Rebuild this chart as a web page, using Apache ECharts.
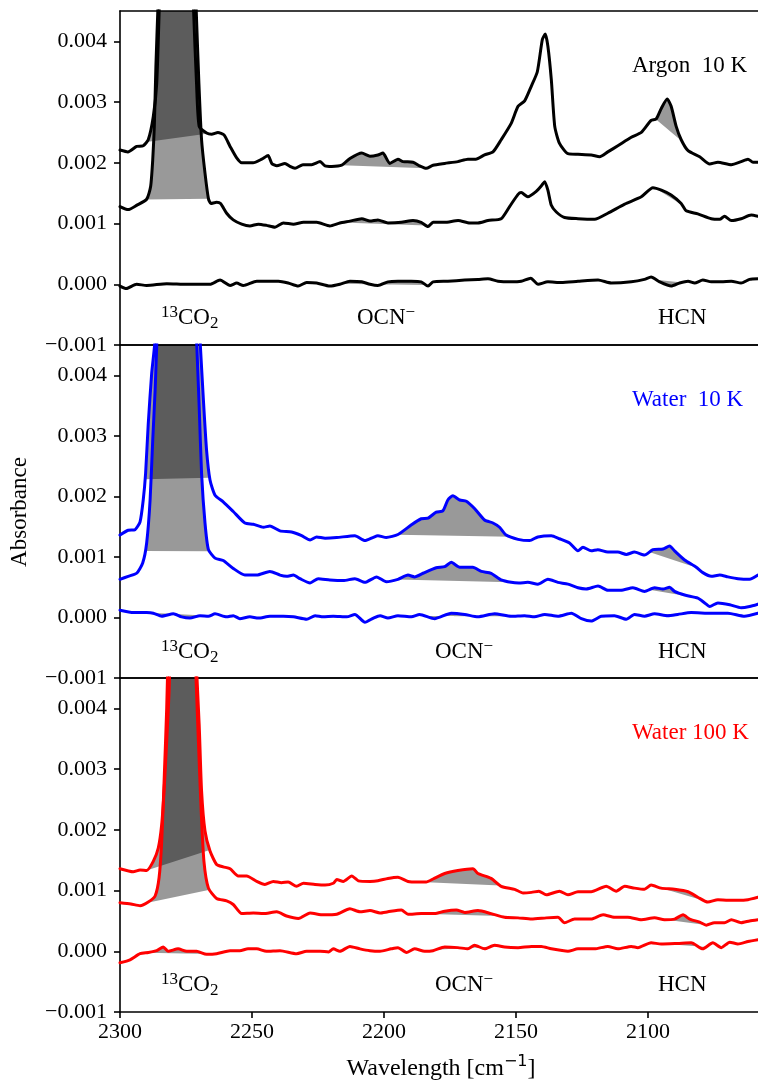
<!DOCTYPE html>
<html>
<head>
<meta charset="utf-8">
<script src="https://cdn.jsdelivr.net/npm/echarts@6/dist/echarts.min.js"></script>
<style>
  html, body { margin: 0; padding: 0; background: #fff; }
  #chart { width: 758px; height: 1082px; }
</style>
</head>
<body>
<div id="chart"></div>
<script>
// absorbance values in units of 1e-3, [wavenumber, value]
const argonTop = [[2300,2.21],[2297,2.18],[2293.7,2.27],[2291.2,2.28],[2289.3,2.38],[2287.4,2.76],[2286.1,3.3],[2285.1,4.6],[2283,8],[2278.5,10],[2274.5,8],[2272.2,4.6],[2271,3.3],[2270,2.6],[2267.2,2.49],[2265.3,2.47],[2262.9,2.5],[2260.6,2.46],[2258.3,2.27],[2255.8,2.08],[2253.9,2.0],[2249.6,2.0],[2246.3,2.06],[2243.9,2.12],[2242.5,1.99],[2240.6,1.95],[2237.5,1.99],[2235.6,1.94],[2233.7,1.91],[2230.7,1.97],[2227.4,1.97],[2224.2,2.02],[2222.3,1.95],[2219.8,1.94],[2216,1.96],[2212.9,2.07],[2208.4,2.16],[2205.3,2.11],[2202.3,2.13],[2200.4,2.16],[2197.8,1.99],[2194.7,2.06],[2192.8,2.02],[2189,2.01],[2186.5,1.95],[2184,1.91],[2181.4,1.96],[2177,1.99],[2172,2.02],[2168.2,2.06],[2165.2,2.06],[2161.9,2.13],[2158.7,2.18],[2155.6,2.38],[2151.8,2.65],[2149.2,2.93],[2146.7,3.02],[2144.2,3.26],[2141.9,3.5],[2140,4.03],[2138.9,4.12],[2137.9,3.92],[2136.6,3.37],[2135.3,2.6],[2133.5,2.32],[2130.3,2.15],[2126.5,2.14],[2121.5,2.13],[2118.3,2.1],[2115.2,2.18],[2111.4,2.28],[2106.3,2.42],[2102.5,2.5],[2098.8,2.7],[2096.9,2.72],[2094.9,2.9],[2092.7,3.05],[2091.2,2.93],[2089.3,2.6],[2087.4,2.38],[2084.8,2.2],[2080.4,2.1],[2076.6,1.98],[2073.5,2.01],[2068.4,1.97],[2064.7,2.02],[2062.1,2.06],[2060.2,2.01],[2058.3,2.01]];
const argonMid = [[2300,1.28],[2296.9,1.23],[2293.7,1.3],[2289.9,1.4],[2288.4,1.61],[2287.6,2.05],[2287,2.6],[2286.4,3.59],[2285.6,4.6],[2283,8],[2278.5,10],[2274,8],[2271.2,4.6],[2270.1,3.3],[2269.1,2.38],[2267.8,1.83],[2266.5,1.41],[2265.6,1.33],[2263.4,1.35],[2261.9,1.33],[2259.6,1.17],[2257.1,1.06],[2253.9,0.99],[2250.8,0.96],[2247.6,0.99],[2244.5,0.97],[2241.3,0.94],[2238.1,1.01],[2234.3,0.99],[2230.5,1.02],[2225.5,1.02],[2220.5,0.96],[2216.7,1.01],[2212.9,1.04],[2208.4,1.08],[2205.3,1.04],[2202.3,1.06],[2198.5,1.01],[2193.4,1.02],[2189,1.05],[2185.9,1.02],[2183.3,0.95],[2181.4,1.02],[2177,1.02],[2171.9,1.05],[2167.5,1.01],[2164.4,1.01],[2160.6,1.05],[2155.6,1.08],[2152.4,1.28],[2149.2,1.48],[2148,1.51],[2145.5,1.44],[2142.3,1.53],[2140.2,1.63],[2139.1,1.69],[2137.9,1.55],[2136.6,1.3],[2134.7,1.19],[2131.6,1.1],[2126.5,1.08],[2120.2,1.07],[2115.2,1.17],[2108.8,1.32],[2102.5,1.44],[2098.1,1.59],[2094.9,1.55],[2091.2,1.47],[2087.4,1.33],[2085.5,1.21],[2081.1,1.16],[2076,1.08],[2072.8,1.07],[2071,1.12],[2068.4,1.05],[2064.7,1.08],[2060.9,1.14],[2058.3,1.12]];
const argonLow = [[2300,-0.03],[2297.6,-0.07],[2293.7,0.0],[2289.9,-0.02],[2282.3,0.01],[2274.7,0.0],[2265.9,0.0],[2262.1,0.07],[2258.3,-0.02],[2255.8,0.02],[2253.3,-0.02],[2248.2,0.05],[2244.5,0.05],[2240,0.05],[2236.3,0.02],[2232.5,-0.03],[2229.3,0.03],[2225.5,0.02],[2220.5,-0.03],[2216.7,0.0],[2212.9,0.05],[2208.4,0.04],[2205.3,0.0],[2202.3,-0.02],[2198.5,0.04],[2194.7,0.05],[2189.7,0.05],[2185.9,0.04],[2183.3,-0.03],[2181.4,0.04],[2175.8,0.05],[2169.4,0.07],[2164.4,0.08],[2160.6,0.09],[2156.8,0.05],[2151.8,0.04],[2148,0.05],[2144.4,0.1],[2141.6,0.0],[2137.9,0.04],[2132.8,0.03],[2126.5,0.05],[2118.9,0.07],[2113.9,0.02],[2106.3,0.04],[2101.3,0.08],[2098.8,0.12],[2095.6,0.04],[2091.2,-0.03],[2088,0.02],[2084.8,0.05],[2082.3,0.02],[2079.2,0.07],[2076,0.04],[2072.2,0.04],[2068.4,0.05],[2064.7,0.02],[2061.5,0.08],[2058.3,0.09]];

const water10Top = [[2300,1.36],[2296.9,1.44],[2294.3,1.45],[2292.4,1.58],[2291.2,1.94],[2290.3,2.38],[2289.3,3.2],[2288,4.03],[2286.7,4.6],[2284,8],[2279,10],[2274,8],[2269.7,4.6],[2268.4,3.59],[2267.2,2.76],[2265.9,2.27],[2264,2.02],[2260.9,1.91],[2257.1,1.75],[2252.7,1.56],[2249.5,1.54],[2245.7,1.49],[2243.2,1.51],[2239.4,1.43],[2235,1.41],[2231.2,1.35],[2228,1.28],[2225.5,1.33],[2222.3,1.31],[2217.9,1.32],[2211,1.35],[2207.2,1.27],[2204.2,1.32],[2202.3,1.35],[2199.1,1.32],[2194.7,1.37],[2189.6,1.53],[2185.9,1.63],[2183.3,1.64],[2180.2,1.74],[2177.7,1.76],[2175.8,1.94],[2173.9,2.01],[2171.3,1.94],[2168.8,1.92],[2165.7,1.8],[2161.9,1.61],[2158.7,1.56],[2156.2,1.49],[2153.7,1.36],[2149.2,1.29],[2144.8,1.27],[2141.7,1.33],[2136.6,1.35],[2133.5,1.3],[2129.7,1.23],[2126.5,1.1],[2124.6,1.16],[2121.5,1.1],[2119,1.12],[2115.2,1.08],[2111.4,1.08],[2108.2,1.04],[2105.1,1.08],[2101.3,1.03],[2098.1,1.12],[2094.3,1.13],[2091.8,1.18],[2089.9,1.1],[2086.1,0.95],[2081.7,0.83],[2079.2,0.74],[2076,0.68],[2072.8,0.7],[2069.7,0.67],[2065.9,0.64],[2061.5,0.63],[2058.3,0.7]];
const water10Mid = [[2300,0.63],[2296.9,0.68],[2293.7,0.73],[2291.4,0.9],[2289.9,1.23],[2288.6,1.94],[2287.6,2.93],[2286.7,3.75],[2286,4.6],[2283,8],[2278.5,10],[2274,8],[2271,4.6],[2270,3.48],[2269.1,2.38],[2267.8,1.56],[2266.5,1.12],[2264,0.98],[2260.9,0.94],[2257.1,0.81],[2252.7,0.7],[2248.2,0.7],[2243.2,0.76],[2239.4,0.7],[2236.9,0.68],[2234.3,0.7],[2231.8,0.64],[2228,0.57],[2224.9,0.64],[2220.5,0.62],[2215.4,0.61],[2211,0.64],[2207.2,0.58],[2202.8,0.67],[2199.1,0.59],[2194.7,0.63],[2190.9,0.7],[2188.4,0.67],[2185.2,0.73],[2180.2,0.82],[2177,0.84],[2174.5,0.91],[2171.3,0.83],[2166.3,0.83],[2163.1,0.76],[2159.4,0.73],[2155.6,0.62],[2151.8,0.58],[2148.9,0.57],[2145.5,0.58],[2141.7,0.55],[2137.9,0.63],[2134.1,0.58],[2130.3,0.55],[2126.5,0.49],[2123.4,0.47],[2118.9,0.52],[2115.2,0.45],[2110.2,0.45],[2105.7,0.49],[2101.3,0.43],[2097.5,0.49],[2094.3,0.47],[2091.8,0.5],[2089.9,0.43],[2086.1,0.37],[2081.1,0.32],[2078.5,0.24],[2076.6,0.18],[2073.5,0.24],[2069,0.21],[2064.7,0.16],[2061.5,0.18],[2058.3,0.22]];
const water10Low = [[2300,0.12],[2294.9,0.08],[2289.9,0.08],[2287.4,0.07],[2284.2,0.02],[2279.8,0.06],[2276.7,0.01],[2273.5,-0.01],[2269.7,0.03],[2266.5,0.02],[2264,0.06],[2259.6,0.01],[2257.1,0.03],[2254.6,-0.02],[2250.8,0.01],[2247.6,-0.01],[2243.2,0.02],[2238.1,0.02],[2234.3,0.01],[2229.3,-0.03],[2226.1,0.03],[2223,0.01],[2219.2,0.02],[2214.1,0.01],[2211,0.05],[2207.2,-0.08],[2204,-0.01],[2201.5,0.03],[2198.5,-0.01],[2194.7,0.03],[2189.6,0.01],[2186.5,0.05],[2180.8,-0.02],[2174.5,0.07],[2169.4,0.05],[2164.4,0.01],[2158.1,0.06],[2151.8,0.02],[2146.7,0.03],[2143,0.01],[2139.1,0.05],[2134.1,0.02],[2129,0.07],[2125.2,-0.02],[2121.5,-0.06],[2117.7,0.02],[2112.7,0.03],[2108.2,-0.03],[2105.1,0.05],[2101.3,0.02],[2097.5,0.06],[2092.5,0.03],[2088.7,0.05],[2083.6,0.08],[2076,0.07],[2069.7,0.07],[2063.4,0.02],[2058.3,0.07]];

const water100Top = [[2300,1.36],[2295,1.31],[2292.4,1.34],[2289.9,1.33],[2287.4,1.48],[2285.5,1.7],[2284.2,2.09],[2283.3,2.64],[2282.3,3.46],[2281.4,4.28],[2280.8,5.2],[2278,9],[2275.5,9],[2271.6,5.2],[2270,3.73],[2269.1,2.64],[2267.8,1.98],[2265.9,1.65],[2263.4,1.43],[2260.9,1.39],[2258.3,1.36],[2255.2,1.24],[2252,1.24],[2248.2,1.15],[2245.1,1.1],[2241.9,1.15],[2238.8,1.13],[2236.3,1.14],[2233.1,1.07],[2230.5,1.12],[2226.1,1.1],[2222.3,1.09],[2219.2,1.12],[2217.9,1.18],[2215.4,1.15],[2212.2,1.24],[2209.7,1.16],[2205.3,1.15],[2202.3,1.16],[2198.5,1.2],[2194.7,1.22],[2190.9,1.15],[2187.1,1.14],[2184,1.14],[2181.4,1.19],[2177,1.28],[2172,1.33],[2166.3,1.36],[2164.4,1.28],[2159.4,1.2],[2155.6,1.07],[2150.5,1.02],[2147.3,0.96],[2144.1,0.97],[2141.3,0.99],[2138.5,0.93],[2133.5,0.99],[2130.3,0.93],[2126.5,0.98],[2121.5,0.98],[2115.8,1.07],[2112,0.99],[2108.8,1.07],[2105.1,1.04],[2101.3,1.02],[2098.8,1.09],[2095,1.04],[2089.9,1.02],[2084.8,0.98],[2081.1,0.89],[2077.3,0.81],[2073.5,0.85],[2069.7,0.84],[2065.9,0.84],[2062.1,0.85],[2058.3,0.89]];
const water100Mid = [[2300,0.8],[2295.9,0.78],[2292.4,0.75],[2289.3,0.81],[2286.7,0.91],[2285.2,1.21],[2284.2,1.81],[2283.2,2.91],[2282.3,4.01],[2281.6,5.2],[2278.5,9],[2275,9],[2271.8,5.2],[2270.3,3.46],[2269.3,2.36],[2268.2,1.48],[2266.5,1.04],[2263.4,0.87],[2259.6,0.83],[2257.1,0.77],[2253.9,0.62],[2249.5,0.63],[2245.7,0.62],[2240.6,0.65],[2236.9,0.58],[2232.4,0.54],[2228,0.63],[2223,0.6],[2217.9,0.61],[2212.9,0.7],[2209.1,0.65],[2205.3,0.67],[2201.5,0.63],[2198.5,0.65],[2193.4,0.68],[2190.9,0.61],[2185.9,0.62],[2180.8,0.62],[2177,0.66],[2172.6,0.68],[2169.4,0.64],[2164.4,0.67],[2159.4,0.62],[2154.3,0.56],[2149.2,0.55],[2144.1,0.53],[2138.5,0.55],[2134.1,0.56],[2131.6,0.47],[2127.8,0.53],[2121.5,0.53],[2117,0.6],[2112.7,0.56],[2107.6,0.56],[2102.5,0.52],[2097.5,0.55],[2093.7,0.52],[2089.9,0.53],[2086.7,0.6],[2084.2,0.53],[2080.4,0.48],[2077.9,0.43],[2074.8,0.47],[2071,0.47],[2068.4,0.52],[2064.7,0.47],[2061.5,0.5],[2058.3,0.52]];
const water100Low = [[2300,-0.19],[2296.2,-0.14],[2292.4,-0.04],[2289.3,-0.02],[2286.1,0.01],[2283.6,0.07],[2281.8,0.0],[2278,0.04],[2274.7,0.0],[2271,0.0],[2267.2,-0.05],[2263.4,-0.04],[2258.3,0.01],[2254.6,0.01],[2251.5,0.04],[2248.2,0.04],[2244.5,0.0],[2239.4,0.01],[2233.1,-0.04],[2229.3,0.0],[2224.2,0.0],[2221,-0.01],[2219.2,0.04],[2216.7,0.0],[2212.9,0.08],[2209.1,0.04],[2205.3,0.01],[2201.5,0.0],[2197.3,0.04],[2194.7,0.06],[2191.5,-0.02],[2188.4,0.04],[2184.6,0.0],[2181.4,0.01],[2177,0.07],[2172,0.06],[2168.2,0.04],[2165.7,0.1],[2161.9,0.04],[2158.1,0.1],[2154.3,0.07],[2149.2,0.06],[2144.1,0.08],[2140.4,0.08],[2136.6,0.04],[2130.3,0.0],[2126.5,0.04],[2120.2,0.04],[2115.2,0.08],[2111.4,0.04],[2106.3,0.08],[2103.8,0.06],[2098.8,0.14],[2095,0.12],[2088.7,0.13],[2083.6,0.14],[2079.2,0.04],[2075.4,0.14],[2072.2,0.06],[2069,0.15],[2065.9,0.12],[2062.1,0.16],[2058.3,0.19]];

// integration windows (13CO2, OCN-, HCN) for each panel
const argonWindows = [[2290, 2266.5], [2216, 2184], [2097, 2087]];
const water10Windows = [[2290.5, 2266], [2195, 2152], [2099.5, 2081.5]];
const water100Windows = [[2290, 2266], [2186, 2156], [2098, 2078]];

const yTicks = [-1, 0, 1, 2, 3, 4];
const xTicks = [2300, 2250, 2200, 2150, 2100];

const panels = [
  { name: 'Argon  10 K', color: '#000000', curves: [argonTop, argonMid, argonLow], windows: argonWindows, ocnX: 357 },
  { name: 'Water  10 K', color: '#0000ff', curves: [water10Top, water10Mid, water10Low], windows: water10Windows, ocnX: 435 },
  { name: 'Water 100 K', color: '#ff0000', curves: [water100Top, water100Mid, water100Low], windows: water100Windows, ocnX: 435 }
];

const FONT = '"Liberation Serif", "Times New Roman", serif';
const gridTops = [11, 345, 678];
const gridHeights = [334, 333, 334];
const spine = { color: '#000', width: 1.6 };

function interp(curve, w) {
  for (let i = 0; i < curve.length - 1; i++) {
    const a = curve[i], b = curve[i + 1];
    if (w <= a[0] && w >= b[0]) {
      const t = (a[0] - w) / (a[0] - b[0]);
      return [w, a[1] + t * (b[1] - a[1])];
    }
  }
  return curve[curve.length - 1];
}

function fillRenderer(curve) {
  return function (params, api) {
    const hi = Math.max(api.value(0), api.value(2));
    const lo = Math.min(api.value(0), api.value(2));
    const pts = [interp(curve, hi)];
    curve.forEach(p => { if (p[0] < hi && p[0] > lo) pts.push(p); });
    pts.push(interp(curve, lo));
    return {
      type: 'polygon',
      shape: { points: pts.map(p => api.coord(p)) },
      style: { fill: 'rgba(0,0,0,0.4)' }
    };
  };
}

const grid = [], xAxis = [], yAxis = [], series = [], graphic = [];

panels.forEach((p, i) => {
  const last = i === panels.length - 1;
  // the original is cropped on the right, so no right spine
  grid.push({ left: 120, right: 0, top: gridTops[i], height: gridHeights[i] });
  xAxis.push({
    type: 'value', gridIndex: i, position: 'bottom', inverse: true, min: 2058.3, max: 2300,
    splitLine: { show: false },
    axisLine: { show: true, onZero: false, lineStyle: spine },
    axisTick: { show: last, inside: false, length: 6, customValues: xTicks, lineStyle: spine },
    axisLabel: { show: last, customValues: xTicks, margin: 9, color: '#000', fontSize: 22, fontFamily: FONT, formatter: v => String(v) }
  });
  // top spine
  xAxis.push({
    type: 'value', gridIndex: i, position: 'top', inverse: true, min: 2058.3, max: 2300,
    splitLine: { show: false }, axisTick: { show: false }, axisLabel: { show: false },
    axisLine: { show: true, onZero: false, lineStyle: spine }
  });
  yAxis.push({
    type: 'value', gridIndex: i, min: -1, max: 4.5, interval: 1,
    splitLine: { show: false },
    axisLine: { show: true, onZero: false, lineStyle: spine },
    axisTick: { show: true, inside: false, length: 6, customValues: yTicks, lineStyle: spine },
    axisLabel: {
      customValues: yTicks, margin: 13, color: '#000', fontSize: 22, fontFamily: FONT,
      formatter: v => (v < 0 ? '\u2212' : '') + Math.abs(v / 1000).toFixed(3)
    }
  });

  p.curves.forEach(curve => {
    series.push({
      type: 'custom', xAxisIndex: 2 * i, yAxisIndex: i, clip: true, z: 1,
      data: p.windows.map(w => [w[0], 0, w[1]]),
      encode: { x: 0, y: 1 },
      renderItem: fillRenderer(curve),
      silent: true
    });
    series.push({
      type: 'line', xAxisIndex: 2 * i, yAxisIndex: i, data: curve, showSymbol: false, z: 3,
      smooth: 0.2,
      lineStyle: { color: p.color, width: 3, join: 'round', cap: 'round' }, itemStyle: { color: p.color }
    });
  });

  // panel title
  graphic.push({
    type: 'text', x: 632, y: gridTops[i] + 55, z: 10,
    style: { text: p.name, fill: p.color, fontSize: 23, fontFamily: FONT, textAlign: 'left', textVerticalAlign: 'middle' }
  });
  // band labels
  const ly = gridTops[i] + 307;
  const rich = {
    n: { fontSize: 23, fontFamily: FONT, fill: '#000', lineHeight: 28, verticalAlign: 'middle' },
    sup: { fontSize: 17, fontFamily: FONT, fill: '#000', lineHeight: 17, verticalAlign: 'top' },
    sub: { fontSize: 17, fontFamily: FONT, fill: '#000', lineHeight: 17, verticalAlign: 'bottom' }
  };
  graphic.push({ type: 'text', x: 161, y: ly, z: 10, style: { text: '{sup|13}{n|CO}{sub|2}', rich: rich, textAlign: 'left', textVerticalAlign: 'middle' } });
  graphic.push({ type: 'text', x: p.ocnX, y: ly, z: 10, style: { text: '{n|OCN}{sup|\u2212}', rich: rich, textAlign: 'left', textVerticalAlign: 'middle' } });
  graphic.push({ type: 'text', x: 658, y: ly, z: 10, style: { text: '{n|HCN}', rich: rich, textAlign: 'left', textVerticalAlign: 'middle' } });
});

graphic.push({
  type: 'text', x: 20, y: 512, rotation: Math.PI / 2, z: 10,
  style: { text: 'Absorbance', fill: '#000', fontSize: 23, fontFamily: FONT, textAlign: 'center', textVerticalAlign: 'middle' }
});
graphic.push({
  type: 'text', x: 441, y: 1069, z: 10,
  style: {
    text: '{n|Wavelength [cm}{sup|\u22121}{n|]}', textAlign: 'center', textVerticalAlign: 'middle',
    rich: {
      n: { fontSize: 24, fontFamily: FONT, fill: '#000', lineHeight: 30, verticalAlign: 'middle' },
      sup: { fontSize: 16, fontFamily: '"DejaVu Sans", sans-serif', fill: '#000', lineHeight: 18, verticalAlign: 'top' }
    }
  }
});

const myChart = echarts.init(document.getElementById('chart'), null, { renderer: 'canvas' });
myChart.setOption({
  animation: false,
  backgroundColor: '#fff',
  grid: grid,
  xAxis: xAxis,
  yAxis: yAxis,
  series: series,
  graphic: graphic
});
</script>
</body>
</html>
